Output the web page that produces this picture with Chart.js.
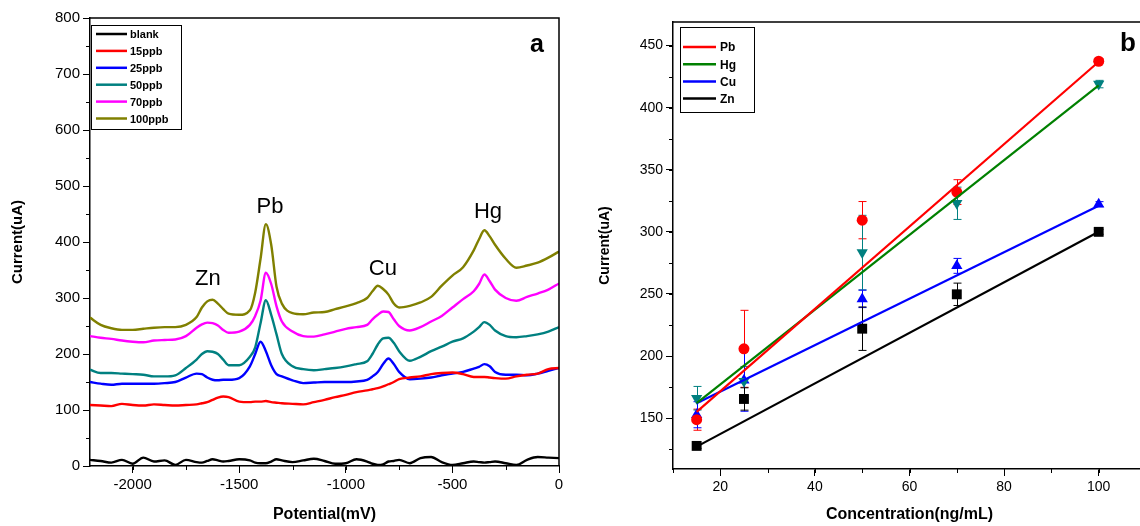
<!DOCTYPE html>
<html>
<head>
<meta charset="utf-8">
<script src="https://cdn.jsdelivr.net/npm/chart.js"></script>
<style>
  html, body { margin: 0; padding: 0; background: #fff; overflow: hidden; width: 1140px; height: 526px; }
  #wrapA { position: absolute; left: 0; top: 0; width: 570px; height: 526px; }
  #wrapB { position: absolute; left: 580px; top: 0; width: 580px; height: 526px; }
</style>
</head>
<body>
<div id="wrapA"><canvas id="chartA"></canvas></div>
<div id="wrapB"><canvas id="chartB"></canvas></div>
<script>
// --- panel a: stripping voltammograms ---
const potentials = [-2200,-2150,-2100,-2050,-2000,-1950,-1900,-1850,-1800,-1750,
  -1700,-1675,-1650,-1625,-1600,-1575,-1550,-1500,-1450,-1425,
  -1400,-1375,-1350,-1325,-1300,-1250,-1200,-1150,-1100,-1050,
  -1000,-950,-900,-875,-850,-825,-800,-775,-750,-700,
  -650,-600,-550,-500,-450,-400,-375,-350,-325,-300,
  -250,-200,-150,-100,-50,0];
const blank = [11,9,6,11,4,15,8,10,2,11, 7,6,9,12,10,8,9,12,10,6,
  5,5,8,12,10,7,10,13,9,4, 5,12,8,4,2,3,8,9,11,5,
  14,16,7,2,5,8,7,6,7,8, 5,2,11,16,15,14];
const ppb15 = [109,108,107,111,109,108,110,109,108,109, 110,112,114,118,122,124,123,115,114,115,
  115,116,114,113,112,111,110,114,118,123, 127,132,135,137,139,142,146,150,155,158,
  160,164,166,167,164,159,159,159,158,157, 156,160,163,165,173,175];
const ppb25 = [150,147,145,147,147,147,147,148,150,158, 165,164,158,154,153,154,154,157,178,200,
  222,205,180,164,160,153,148,149,150,150, 150,151,154,160,168,182,192,182,168,155,
  156,158,162,165,168,174,177,182,178,168, 163,163,162,165,170,175];
const ppb50 = [172,166,166,165,164,163,160,160,162,175, 190,200,205,204,200,190,180,180,195,212,
  255,296,270,235,200,178,173,171,173,175, 178,182,187,200,217,228,229,220,205,188,
  195,205,213,222,228,240,248,257,252,242, 232,230,232,235,240,248];
const ppb70 = [232,229,227,224,222,221,224,225,226,232, 247,253,256,255,251,243,238,240,252,268,
  295,345,325,285,258,240,232,231,235,240, 245,248,252,262,270,276,275,262,250,242,
  248,258,268,283,298,312,325,342,330,315, 300,295,302,308,315,326];
const ppb100 = [265,252,246,243,243,245,247,248,248,252, 266,283,294,297,290,280,272,270,278,310,
  370,432,395,320,290,273,271,274,275,280, 285,291,300,312,322,316,306,290,283,286,
  292,302,322,340,355,385,405,421,410,395, 370,354,358,363,372,383];
const potTicks = [-2000,-1500,-1000,-500,0];
const currentTicksA = [0,100,200,300,400,500,600,700,800];
const peakNames = ["Zn","Pb","Cu","Hg"];
const peakPot = [-1647,-1356,-826,-333];
const peakLabelCur = [334,462,352,453];

// --- panel b: calibration ---
const conc = [15,25,50,70,100];
const pbCurrent = [148.7,205.8,309.4,332,437.4];
const hgCurrent = [166,179.6,283.3,323,419];
const cuCurrent = [152.7,180.5,246,272.6,322.3];
const znCurrent = [127.6,165.4,222,249.7,300];
const pbErr = [8.5,31,15,10,2];
const hgErr = [9.5,12,30,13,3];
const cuErr = [10.5,25,7,6,2];
const znErr = [2,9,17.5,9,2];
const fitConc = [15,100];
const pbFit = [155,437];
const hgFit = [162,418];
const cuFit = [162,321];
const znFit = [127,300];
const concTicks = [20,40,60,80,100];
const currentTicksB = [150,200,250,300,350,400,450];

const FONT = "Arial, 'Liberation Sans', sans-serif";
Chart.defaults.font.family = FONT;
Chart.defaults.color = "#000";

// рамка сверху и справа
const frame = {
  id: "frame",
  afterDraw(chart) {
    const { ctx, chartArea: a } = chart;
    ctx.save();
    ctx.strokeStyle = "#000";
    ctx.lineWidth = 1.5;
    ctx.beginPath();
    ctx.moveTo(a.left, a.top);
    ctx.lineTo(a.right, a.top);
    ctx.lineTo(a.right, a.bottom);
    ctx.stroke();
    ctx.restore();
  }
};

// мелкие засечки
const minorTicks = {
  id: "minorTicks",
  afterDraw(chart, args, opts) {
    const ctx = chart.ctx;
    ctx.save();
    ctx.strokeStyle = "#000";
    ctx.lineWidth = 1;
    for (const [id, step] of Object.entries(opts.steps || {})) {
      const sc = chart.scales[id];
      const start = Math.ceil(sc.min / step) * step;
      for (let v = start; v <= sc.max + 1e-9; v += step) {
        const p = Math.round(sc.getPixelForValue(v)) + 0.5;
        ctx.beginPath();
        if (sc.isHorizontal()) { ctx.moveTo(p, sc.top); ctx.lineTo(p, sc.top + 4); }
        else { ctx.moveTo(sc.right, p); ctx.lineTo(sc.right - 4, p); }
        ctx.stroke();
      }
    }
    ctx.restore();
  }
};

// легенда в рамке
const boxLegend = {
  id: "boxLegend",
  afterDraw(chart, args, o) {
    const ctx = chart.ctx;
    ctx.save();
    ctx.fillStyle = "#fff";
    ctx.fillRect(o.x, o.y, o.w, o.h);
    ctx.strokeStyle = "#000";
    ctx.lineWidth = 1;
    ctx.strokeRect(o.x + 0.5, o.y + 0.5, o.w, o.h);
    const items = o.datasets.map(i => chart.data.datasets[i]);
    items.forEach((ds, i) => {
      const yy = o.firstY + i * o.rowH;
      ctx.strokeStyle = ds.borderColor;
      ctx.lineWidth = o.lineWidth;
      ctx.beginPath();
      ctx.moveTo(o.lineX0, yy);
      ctx.lineTo(o.lineX1, yy);
      ctx.stroke();
      ctx.fillStyle = "#000";
      ctx.font = o.font;
      ctx.textAlign = "left";
      ctx.textBaseline = "middle";
      ctx.fillText(ds.label, o.textX, yy + 1);
    });
    ctx.restore();
  }
};

// подписи в координатах данных
const textMarks = {
  id: "textMarks",
  afterDatasetsDraw(chart, args, opts) {
    const { ctx, scales: { x, y } } = chart;
    ctx.save();
    ctx.fillStyle = "#000";
    ctx.textAlign = "center";
    ctx.textBaseline = "middle";
    (opts.items || []).forEach(t => {
      ctx.font = t.font;
      ctx.fillText(t.text, x.getPixelForValue(t.x), y.getPixelForValue(t.y));
    });
    ctx.restore();
  }
};

// планки погрешностей
const errorBars = {
  id: "errorBars",
  beforeDatasetsDraw(chart) {
    const { ctx, scales: { x, y } } = chart;
    ctx.save();
    chart.data.datasets.forEach(ds => {
      if (!ds.errors) return;
      ctx.strokeStyle = ds.barColor;
      ctx.lineWidth = 1;
      ds.data.forEach((p, i) => {
        const px = Math.round(x.getPixelForValue(p.x)) + 0.5;
        const y0 = y.getPixelForValue(p.y - ds.errors[i]);
        const y1 = y.getPixelForValue(p.y + ds.errors[i]);
        ctx.beginPath();
        ctx.moveTo(px, y0); ctx.lineTo(px, y1);
        ctx.moveTo(px - 4, y0); ctx.lineTo(px + 4, y0);
        ctx.moveTo(px - 4, y1); ctx.lineTo(px + 4, y1);
        ctx.stroke();
      });
    });
    ctx.restore();
  }
};

function axis(min, max, ticks, opts) {
  return {
    type: "linear",
    min, max,
    afterBuildTicks: s => { s.ticks = ticks.map(v => ({ value: v })); },
    afterFit: opts.fit,
    grid: { drawOnChartArea: false, drawTicks: true, tickLength: 7, color: "#000", tickColor: "#000", tickWidth: 1 },
    border: { display: true, color: "#000", width: 1.5 },
    ticks: { color: "#000", font: { size: opts.tickSize }, padding: 3, maxRotation: 0, autoSkip: false, callback: v => String(v) },
    title: { display: true, text: opts.title, color: "#000", font: { size: opts.titleSize, weight: "bold" }, padding: opts.titlePad }
  };
}

function curve(label, color, values) {
  return {
    label, borderColor: color, backgroundColor: color,
    data: potentials.map((p, i) => ({ x: p, y: values[i] })),
    borderWidth: 2.4, pointRadius: 0, cubicInterpolationMode: "monotone", fill: false
  };
}

new Chart(document.getElementById("chartA"), {
  type: "line",
  data: {
    datasets: [
      curve("blank", "#000000", blank),
      curve("15ppb", "#FF0000", ppb15),
      curve("25ppb", "#0000FF", ppb25),
      curve("50ppb", "#008080", ppb50),
      curve("70ppb", "#FF00FF", ppb70),
      curve("100ppb", "#808000", ppb100)
    ]
  },
  options: {
    responsive: true, maintainAspectRatio: false, animation: false, devicePixelRatio: 1,
    layout: { padding: { top: 18, right: 11, left: 0, bottom: 0 } },
    scales: {
      x: axis(-2200, 0, potTicks, { fit: s => { s.height = 60; }, tickSize: 15, title: "Potential(mV)", titleSize: 16, titlePad: { top: 0, bottom: 2 } }),
      y: axis(0, 800, currentTicksA, { fit: s => { s.width = 90; }, tickSize: 15, title: "Current(uA)", titleSize: 15, titlePad: { top: 9, bottom: 0 } })
    },
    plugins: {
      legend: { display: false },
      tooltip: { enabled: false },
      minorTicks: { steps: { x: 250, y: 50 } },
      boxLegend: {
        x: 91, y: 25, w: 90, h: 104, firstY: 34, rowH: 16.9,
        lineX0: 96, lineX1: 127, textX: 130, lineWidth: 2.5,
        font: "bold 11px " + FONT, datasets: [0, 1, 2, 3, 4, 5]
      },
      textMarks: {
        items: peakNames.map((n, i) => ({ text: n, x: peakPot[i], y: peakLabelCur[i], font: "22px " + FONT }))
          .concat([{ text: "a", x: -103, y: 752, font: "bold 25px " + FONT }])
      }
    }
  },
  plugins: [frame, minorTicks, boxLegend, textMarks]
});

function pts(values) { return conc.map((c, i) => ({ x: c, y: values[i] })); }
function fitLine(label, color, values) {
  return {
    label, borderColor: color, backgroundColor: color, borderWidth: 2.2, pointRadius: 0,
    data: fitConc.map((c, i) => ({ x: c, y: values[i] }))
  };
}
function marks(color, style, rotation, radius, values, errs) {
  return {
    label: "", showLine: false, borderColor: color, backgroundColor: color, barColor: color,
    pointStyle: style, rotation, pointRadius: radius, pointBorderWidth: 0,
    data: pts(values), errors: errs
  };
}

new Chart(document.getElementById("chartB"), {
  type: "line",
  data: {
    datasets: [
      fitLine("Pb", "#FF0000", pbFit),
      fitLine("Hg", "#008000", hgFit),
      fitLine("Cu", "#0000FF", cuFit),
      fitLine("Zn", "#000000", znFit),
      marks("#FF0000", "circle", 0, 5.5, pbCurrent, pbErr),
      marks("#008080", "triangle", 180, 6.5, hgCurrent, hgErr),
      marks("#0000FF", "triangle", 0, 6.5, cuCurrent, cuErr),
      marks("#000000", "rect", 0, 7, znCurrent, znErr)
    ]
  },
  options: {
    responsive: true, maintainAspectRatio: false, animation: false, devicePixelRatio: 1,
    layout: { padding: { top: 22, right: 14, left: 0, bottom: 0 } },
    scales: {
      x: axis(10, 110, concTicks, { fit: s => { s.height = 57; }, tickSize: 14, title: "Concentration(ng/mL)", titleSize: 16, titlePad: { top: 0, bottom: 2 } }),
      y: axis(109, 469, currentTicksB, { fit: s => { s.width = 93; }, tickSize: 14, title: "Current(uA)", titleSize: 14, titlePad: { top: 17, bottom: 0 } })
    },
    plugins: {
      legend: { display: false },
      tooltip: { enabled: false },
      minorTicks: { steps: { x: 10, y: 25 } },
      boxLegend: {
        x: 100, y: 27, w: 74, h: 85, firstY: 47, rowH: 17.2,
        lineX0: 103, lineX1: 136, textX: 140, lineWidth: 2.5,
        font: "bold 12px " + FONT, datasets: [0, 1, 2, 3]
      },
      textMarks: { items: [{ text: "b", x: 106.2, y: 451.6, font: "bold 26px " + FONT }] }
    }
  },
  plugins: [frame, minorTicks, errorBars, boxLegend, textMarks]
});
</script>
</body>
</html>
